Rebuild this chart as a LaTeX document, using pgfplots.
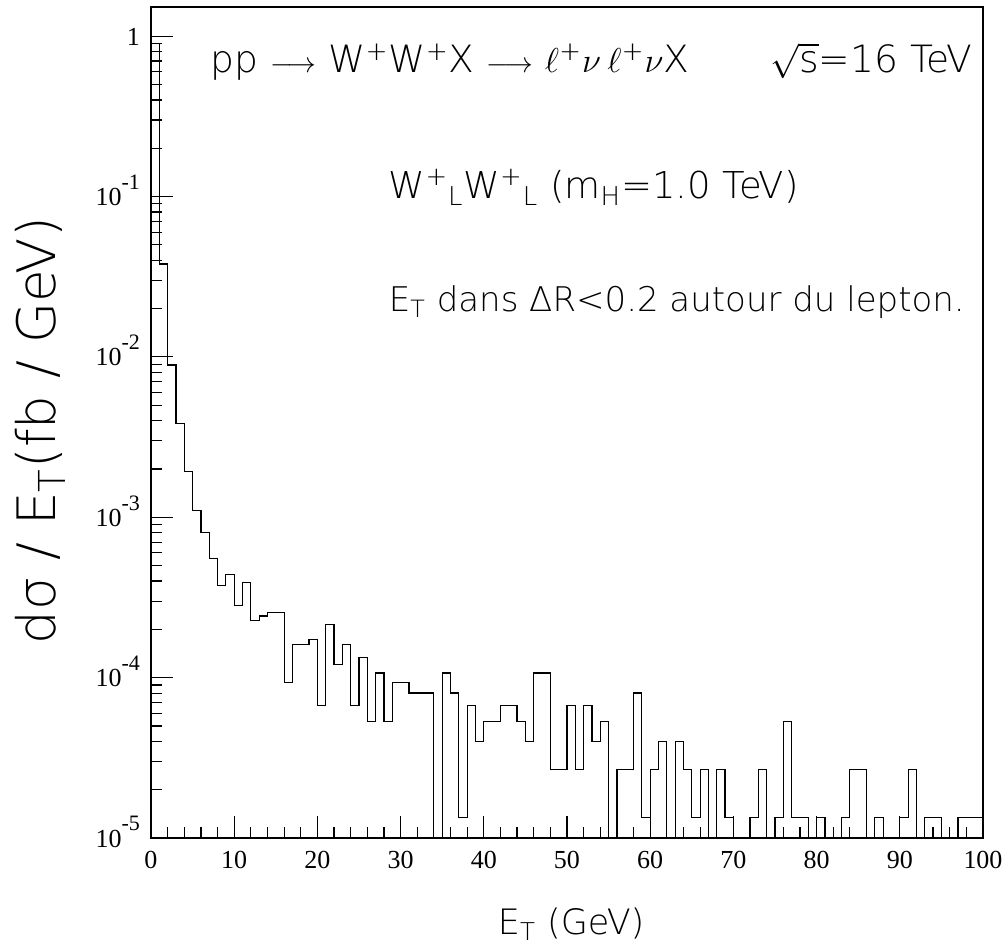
\documentclass[border=0pt]{standalone}
\usepackage{fontspec}
\setmainfont{Liberation Serif}
\newfontfamily\thin{DejaVu Sans ExtraLight}
\usepackage{pgfplots}
\pgfplotsset{compat=1.18}
\newcommand{\ex}[1]{\raisebox{0.62em}{\fontsize{11}{11}\selectfont #1}}
\newcommand{\arr}{{\fontsize{15.5}{15.5}\selectfont$\longrightarrow$}}
\begin{document}
\begin{tikzpicture}
\begin{axis}[
  scale only axis, width=416pt, height=415.5pt,
  xmin=0, xmax=100, ymin=1e-5, ymax=1.52, ymode=log,
  axis line style={line width=1pt},
  xtick={0,10,...,100}, minor x tick num=4,
  ytick={1e-5,1e-4,1e-3,1e-2,1e-1,1},
  yticklabels={10\ex{-5},10\ex{-4},10\ex{-3},10\ex{-2},10\ex{-1},1},
  minor ytick={2e-5,3e-5,4e-5,5e-5,6e-5,7e-5,8e-5,9e-5,
               2e-4,3e-4,4e-4,5e-4,6e-4,7e-4,8e-4,9e-4,
               2e-3,3e-3,4e-3,5e-3,6e-3,7e-3,8e-3,9e-3,
               2e-2,3e-2,4e-2,5e-2,6e-2,7e-2,8e-2,9e-2,
               0.2,0.3,0.4,0.5,0.6,0.7,0.8,0.9},
  tick align=inside, tick pos=left,
  major tick length=11pt, minor tick length=5.5pt,
  tick style={line width=0.6pt, black},
  /pgf/number format/assume math mode=true,
  tick label style={font=\fontsize{13}{15}\selectfont},
  yticklabel style={anchor=base east, yshift=-4.5pt, xshift=-2pt},
  xticklabel style={yshift=-3pt},
  xlabel={E\textsubscript{T} (GeV)},
  xlabel style={font=\thin\fontsize{17.5}{20}\selectfont, at={(axis description cs:0.505,-0.1167)}, anchor=base},
  ylabel={dσ / E\textsubscript{T}(fb / GeV)},
  ylabel style={font=\thin\fontsize{26.5}{28}\selectfont, at={(axis description cs:-0.1334,0.49)}, anchor=center},
]
\addplot[const plot, mark=none, black, line width=0.6pt] coordinates {
(0,0.9) (1,0.038) (2,0.0089) (3,0.00386) (4,0.00193) (5,0.0011) (6,0.000807) (7,0.000552) (8,0.000377) (9,0.000441)
(10,0.000283) (11,0.000392) (12,0.000228) (13,0.000242) (14,0.000255) (15,0.000255) (16,9.345e-5) (17,1.602e-4) (18,1.602e-4) (19,1.7355e-4)
(20,6.675e-5) (21,2.136e-4) (22,1.2015e-4) (23,1.602e-4) (24,6.675e-5) (25,1.335e-4) (26,5.34e-5) (27,1.068e-4) (28,5.34e-5) (29,9.345e-5)
(30,9.345e-5) (31,8.01e-5) (32,8.01e-5) (33,8.01e-5) (34,1e-7) (35,1.068e-4) (36,8.01e-5) (37,1.335e-5) (38,6.675e-5) (39,4.005e-5)
(40,5.34e-5) (41,5.34e-5) (42,6.675e-5) (43,6.675e-5) (44,5.34e-5) (45,4.005e-5) (46,1.068e-4) (47,1.068e-4) (48,2.67e-5) (49,2.67e-5)
(50,6.675e-5) (51,2.67e-5) (52,6.675e-5) (53,4.005e-5) (54,5.34e-5) (55,1e-7) (56,2.67e-5) (57,2.67e-5) (58,8.01e-5) (59,1.335e-5)
(60,2.67e-5) (61,4.005e-5) (62,1e-7) (63,4.005e-5) (64,2.67e-5) (65,1.335e-5) (66,2.67e-5) (67,1e-7) (68,2.67e-5) (69,1.335e-5)
(70,1e-7) (71,1e-7) (72,1.335e-5) (73,2.67e-5) (74,1e-7) (75,1.335e-5) (76,5.34e-5) (77,1.335e-5) (78,1.335e-5) (79,1e-7)
(80,1.335e-5) (81,1e-7) (82,1e-7) (83,1.335e-5) (84,2.67e-5) (85,2.67e-5) (86,1e-7) (87,1.335e-5) (88,1e-7) (89,1e-7)
(90,1.335e-5) (91,2.67e-5) (92,1e-7) (93,1.335e-5) (94,1.335e-5) (95,1e-7) (96,1e-7) (97,1.335e-5) (98,1.335e-5) (99,1.335e-5)
(100,1.335e-5)
};
\coordinate (sw) at (rel axis cs:0,0);
\coordinate (ne) at (rel axis cs:1,1);
\node[anchor=base west, font=\thin\fontsize{18.8}{22}\selectfont, inner sep=0pt] at (rel axis cs:0.0709,0.9206)
  {pp \arr{} W\textsuperscript{+}W\textsuperscript{+}X \arr{} $\ell$\textsuperscript{+}$\nu$\,$\ell$\textsuperscript{+}$\nu$X};
\node[anchor=base east, font=\thin\fontsize{18.8}{22}\selectfont, inner sep=0pt] at (rel axis cs:0.988,0.9206)
  {$\sqrt{\hbox{s}}$=16 TeV};
\node[anchor=base west, font=\thin\fontsize{18.5}{20}\selectfont, inner sep=0pt] at (rel axis cs:0.2855,0.770)
  {W\textsuperscript{+}\textsubscript{L}W\textsuperscript{+}\textsubscript{L} (m\textsubscript{H}=1.0 TeV)};
\node[anchor=base west, font=\thin\fontsize{17}{18}\selectfont, inner sep=0pt] at (rel axis cs:0.2855,0.633)
  {E\textsubscript{T} dans ΔR<0.2 autour du lepton.};
\end{axis}
\pgfresetboundingbox
\path ([xshift=-75.5pt,yshift=-54.5pt]sw) rectangle ([xshift=12.5pt,yshift=3.5pt]ne);
\end{tikzpicture}
\end{document}
